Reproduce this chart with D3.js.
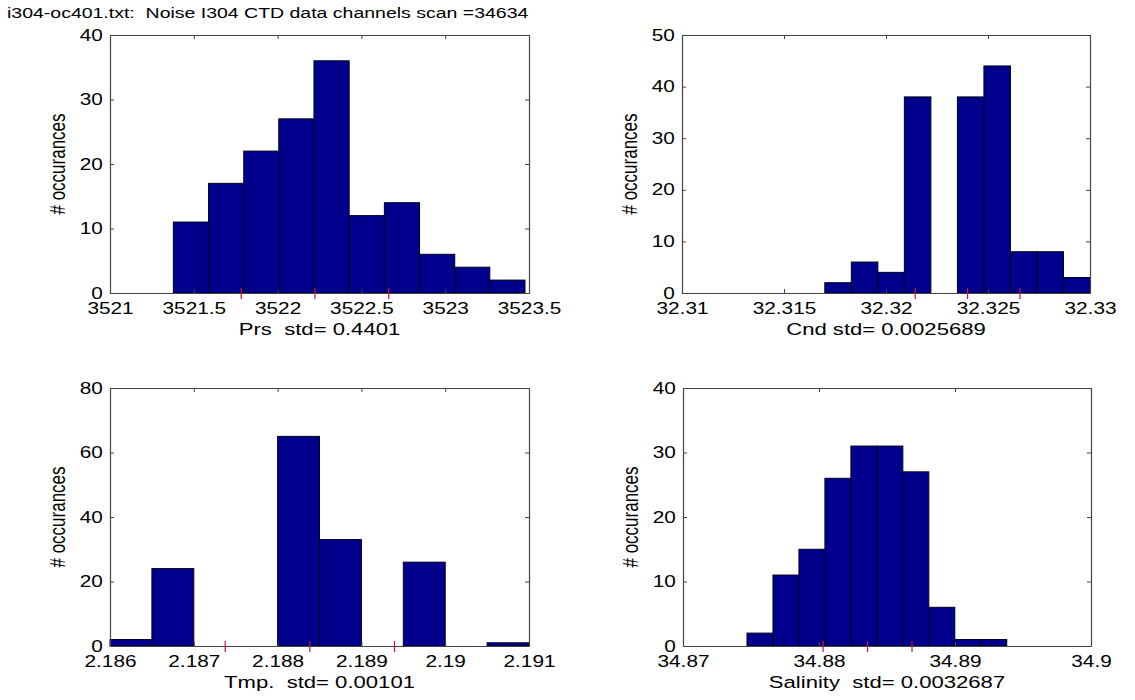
<!DOCTYPE html>
<html>
<head>
<meta charset="utf-8">
<script src="https://cdn.jsdelivr.net/npm/d3@7"></script>
<style>
  html, body { margin: 0; padding: 0; background: #fff; }
  svg { display: block; }
  text { font-family: "Liberation Sans", Arial, sans-serif; fill: #000; }
</style>
</head>
<body>
<svg id="chart" width="1135" height="700"></svg>
<script>
// ---------------- data ----------------
const titleText = "i304-oc401.txt:  Noise I304 CTD data channels scan =34634";
const yLabel = "# occurances";

const prsCenters = [3521.483, 3521.693, 3521.903, 3522.112, 3522.322, 3522.532, 3522.742, 3522.952, 3523.161, 3523.371];
const prsCounts  = [11, 17, 22, 27, 36, 12, 14, 6, 4, 2];
const prsXTicks  = [3521, 3521.5, 3522, 3522.5, 3523, 3523.5];
const prsYTicks  = [0, 10, 20, 30, 40];

const cndCenters = [32.31765, 32.31895, 32.32025, 32.32155, 32.32285, 32.32415, 32.32545, 32.32675, 32.32805, 32.32935];
const cndCounts  = [2, 6, 4, 38, 0, 38, 44, 8, 8, 3];
const cndXTicks  = [32.31, 32.315, 32.32, 32.325, 32.33];
const cndYTicks  = [0, 10, 20, 30, 40, 50];

const tmpCenters = [2.18625, 2.18675, 2.18725, 2.18775, 2.18825, 2.18875, 2.18925, 2.18975, 2.19025, 2.19075];
const tmpCounts  = [2, 24, 0, 0, 65, 33, 0, 26, 0, 1];
const tmpXTicks  = [2.186, 2.187, 2.188, 2.189, 2.19, 2.191];
const tmpYTicks  = [0, 20, 40, 60, 80];

const salCenters = [34.87566, 34.87757, 34.87948, 34.88139, 34.8833, 34.88521, 34.88712, 34.88903, 34.89094, 34.89285];
const salCounts  = [2, 11, 15, 26, 31, 31, 27, 6, 1, 1];
const salXTicks  = [34.87, 34.88, 34.89, 34.9];
const salYTicks  = [0, 10, 20, 30, 40];

const channelNames = ["Prs", "Cnd", "Tmp.", "Salinity"];
const channelStds  = ["0.4401", "0.0025689", "0.00101", "0.0032687"];
const channelMeans = [3522.223, 32.32400, 2.188385, 34.88357];
const channelStdVals = [0.4401, 0.0025689, 0.00101, 0.0032687];
const labelSeps = ["  ", " ", "  ", "  "];

// ---------------- layout ----------------
const SX = 1.3; // horizontal stretch of the glyphs in the reference
const svg = d3.select("#chart");

const panels = [
  { centers: prsCenters, counts: prsCounts, xt: prsXTicks, yt: prsYTicks, box: [110, 529, 35, 293] },
  { centers: cndCenters, counts: cndCounts, xt: cndXTicks, yt: cndYTicks, box: [682, 1090, 35, 293] },
  { centers: tmpCenters, counts: tmpCounts, xt: tmpXTicks, yt: tmpYTicks, box: [110, 529, 388, 646] },
  { centers: salCenters, counts: salCounts, xt: salXTicks, yt: salYTicks, box: [683, 1091, 388, 646] }
];

svg.append("text")
  .attr("transform", `translate(7,17.5) scale(${SX},1)`)
  .style("font-size", "15px")
  .style("white-space", "pre")
  .text(titleText);

panels.forEach((p, i) => {
  const [L, R, T, B] = p.box;
  const x = d3.scaleLinear().domain([p.xt[0], p.xt[p.xt.length - 1]]).range([L, R]);
  const y = d3.scaleLinear().domain([p.yt[0], p.yt[p.yt.length - 1]]).range([B, T]);
  const binW = p.centers[1] - p.centers[0];
  const g = svg.append("g");

  // bars
  g.selectAll("rect.bar")
    .data(p.centers.map((c, k) => ({ c, n: p.counts[k] })).filter(d => d.n > 0))
    .enter().append("rect")
    .attr("class", "bar")
    .attr("x", d => x(d.c - binW / 2))
    .attr("width", d => x(d.c + binW / 2) - x(d.c - binW / 2))
    .attr("y", d => y(d.n))
    .attr("height", d => y(0) - y(d.n))
    .attr("fill", "#00008c")
    .attr("stroke", "#000020")
    .attr("stroke-width", 1);

  const fmt = d => String(d);
  const axisColor = "#444";

  const gb = g.append("g").attr("transform", `translate(0,${B})`)
    .call(d3.axisBottom(x).tickValues(p.xt).tickFormat(fmt).tickSizeInner(-4).tickSizeOuter(0).tickPadding(10));
  gb.selectAll("text").attr("transform", `scale(${SX},1)`).style("font-size", "16px");

  const gt = g.append("g").attr("transform", `translate(0,${T})`)
    .call(d3.axisTop(x).tickValues(p.xt).tickFormat("").tickSizeInner(-4).tickSizeOuter(0));

  const gl = g.append("g").attr("transform", `translate(${L},0)`)
    .call(d3.axisLeft(y).tickValues(p.yt).tickFormat(fmt).tickSizeInner(-4).tickSizeOuter(0).tickPadding(5.5));
  gl.selectAll("text").attr("transform", `scale(${SX},1)`).style("font-size", "16px");

  const gr = g.append("g").attr("transform", `translate(${R},0)`)
    .call(d3.axisRight(y).tickValues(p.yt).tickFormat("").tickSizeInner(-4).tickSizeOuter(0));

  [gb, gt, gl, gr].forEach(a => {
    a.select(".domain").attr("stroke", axisColor).attr("stroke-width", 1.2);
    a.selectAll(".tick line").attr("stroke", axisColor);
    a.selectAll("text").attr("fill", "#000").style("font-family", '"Liberation Sans", Arial, sans-serif');
  });

  // red markers at mean - std, mean, mean + std
  const m = channelMeans[i], s = channelStdVals[i];
  g.selectAll("line.stat")
    .data([m - s, m, m + s])
    .enter().append("line")
    .attr("class", "stat")
    .attr("x1", d => x(d)).attr("x2", d => x(d))
    .attr("y1", B - 5).attr("y2", B + 6)
    .attr("stroke", "#d0103a")
    .attr("stroke-width", 1.2);

  // x label
  g.append("text")
    .attr("transform", `translate(${(L + R) / 2},${B + 42}) scale(${SX},1)`)
    .attr("text-anchor", "middle")
    .style("font-size", "17px")
    .style("white-space", "pre")
    .text(`${channelNames[i]}${labelSeps[i]}std= ${channelStds[i]}`);

  // y label
  g.append("text")
    .attr("transform", `translate(${L - 45},${(T + B) / 2}) scale(${SX},1) rotate(-90)`)
    .attr("text-anchor", "middle")
    .style("font-size", "17px")
    .text(yLabel);
});
</script>
</body>
</html>
